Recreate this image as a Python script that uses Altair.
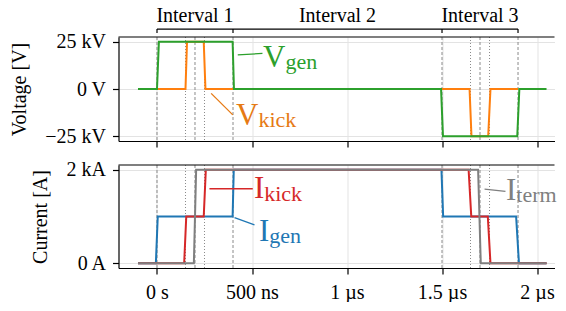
import altair as alt
import pandas as pd

# ---------------- data (time in µs, voltage in kV, current in kA) ----------------
vgen_t = [-0.1, 0.0, 0.01, 0.398, 0.405, 1.495, 1.505, 1.896, 1.907, 2.05]
vgen_v = [0, 0, 25, 25, 0, 0, -25, -25, 0, 0]
vkick_t = [0.0, 0.15, 0.158, 0.246, 0.255, 1.645, 1.655, 1.743, 1.755, 1.9]
vkick_v = [0, 0, 25, 25, 0, 0, -25, -25, 0, 0]

igen_t = [-0.1, -0.006, 0.004, 0.398, 0.404, 1.497, 1.506, 1.89, 1.905, 2.05]
igen_i = [0, 0, 1, 1, 2, 2, 1, 1, 0, 0]
ikick_t = [-0.1, 0.143, 0.154, 0.246, 0.257, 1.64, 1.654, 1.741, 1.755, 2.05]
ikick_i = [0, 0, 1, 1, 2, 2, 1, 1, 0, 0]
iterm_t = [-0.1, 0.194, 0.206, 1.69, 1.704, 2.05]
iterm_i = [0, 0, 2, 2, 0, 0]

dashed_t = [0, 0.2, 0.4, 1.5, 1.7, 1.9]
dotted_t = [0.15, 0.25, 1.65, 1.75]

interval_names = ["Interval 1", "Interval 2", "Interval 3"]
interval_start = [0.0, 0.4, 1.5]
interval_end = [0.4, 1.5, 1.9]

x_ticks = [0, 0.5, 1, 1.5, 2]
v_ticks = [-25, 0, 25]
i_ticks = [0, 2]

# labels: main letter, subscript, x, y, leader line (x1, y1, x2, y2), colour
top_labels = [
    ("V", "gen", 0.558, 11.8, 0.425, 18.0, 0.555, 18.8, "#2ca02c"),
    ("V", "kick", 0.416, -19.0, 0.285, -2.3, 0.399, -13.7, "#e67a14"),
]
bot_labels = [
    ("I", "kick", 0.51, 1.393, 0.276, 1.593, 0.504, 1.593, "#d62728"),
    ("I", "gen", 0.537, 0.484, 0.408, 0.977, 0.513, 0.819, "#1f77b4"),
    ("I", "term", 1.837, 1.357, 1.724, 1.586, 1.834, 1.535, "#7f7f7f"),
]

# ---------------- styling ----------------
FONT = "Liberation Serif"
X_MIN, X_MAX = -0.2026, 2.092
V_MIN, V_MAX = -27.5, 27.5
I_MIN, I_MAX = -0.1, 2.1
W = 436
H_TOP = 104
H_BOT = 103
MAIN_FS = 31
SUB_FS = 22
GRID = "#e3e3e3"

xscale = alt.Scale(domain=[X_MIN, X_MAX], nice=False, zero=False)


def xaxis(labels):
    if labels:
        return alt.Axis(values=x_ticks, labels=True, title=None, grid=True,
                        labelExpr="datum.value == 0 ? '0 s' : (datum.value == 0.5 ? '500 ns' : datum.value + ' µs')",
                        labelPadding=8)
    return alt.Axis(values=x_ticks, labels=False, title=None, grid=True)


def panel(series, yfield_scale, yaxis, labels, brackets):
    ymin, ymax = yfield_scale
    yscale = alt.Scale(domain=[ymin, ymax], nice=False, zero=False)
    xax = xaxis(not brackets)
    layers = []
    dash_df = pd.DataFrame({"t": dashed_t})
    dot_df = pd.DataFrame({"t": dotted_t})
    layers.append(alt.Chart(dash_df).mark_rule(color="#8a8a8a", strokeWidth=1, strokeDash=[3, 2]).encode(
        x=alt.X("t:Q", scale=xscale, axis=xax)))
    layers.append(alt.Chart(dot_df).mark_rule(color="#8a8a8a", strokeWidth=1, strokeDash=[1, 2]).encode(
        x=alt.X("t:Q", scale=xscale, axis=xax)))
    for ts, vs, col in series:
        df = pd.DataFrame({"t": ts, "y": vs, "k": list(range(len(ts)))})
        layers.append(alt.Chart(df).mark_line(color=col, strokeWidth=2).encode(
            x=alt.X("t:Q", scale=xscale, axis=xax),
            y=alt.Y("y:Q", scale=yscale, axis=yaxis),
            order="k:Q"))
    lab_df = pd.DataFrame(labels, columns=["main", "sub", "x", "y", "lx1", "ly1", "lx2", "ly2", "c"])
    for _, r in lab_df.iterrows():
        one = pd.DataFrame([r])
        adv = 0.722 * MAIN_FS if r["main"] == "V" else 0.333 * MAIN_FS
        layers.append(alt.Chart(one).mark_rule(color=r["c"], strokeWidth=1.3).encode(
            x=alt.X("lx1:Q", scale=xscale, axis=xax), x2="lx2:Q",
            y=alt.Y("ly1:Q", scale=yscale, axis=yaxis), y2="ly2:Q"))
        layers.append(alt.Chart(one).mark_text(font=FONT, fontSize=MAIN_FS, color=r["c"], align="left",
                                               baseline="alphabetic").encode(
            x=alt.X("x:Q", scale=xscale, axis=xax), y=alt.Y("y:Q", scale=yscale, axis=yaxis), text="main:N"))
        layers.append(alt.Chart(one).mark_text(font=FONT, fontSize=SUB_FS, color=r["c"], align="left",
                                               baseline="alphabetic", dx=adv, dy=2.5).encode(
            x=alt.X("x:Q", scale=xscale, axis=xax), y=alt.Y("y:Q", scale=yscale, axis=yaxis), text="sub:N"))
    if brackets:
        iv = pd.DataFrame({"name": interval_names, "start": interval_start, "end": interval_end})
        iv["mid"] = (iv["start"] + iv["end"]) / 2
        iv["yl"] = 31.7
        iv["yt"] = 35.3
        layers.append(alt.Chart(iv).mark_rule(color="black", strokeWidth=1.2).encode(
            x=alt.X("start:Q", scale=xscale, axis=xax), x2="end:Q",
            y=alt.Y("yl:Q", scale=yscale, axis=yaxis)))
        bnd = pd.DataFrame({"t": sorted(set(interval_start + interval_end))})
        bnd["y1"] = 29.6
        bnd["y2"] = 31.7
        layers.append(alt.Chart(bnd).mark_rule(color="black", strokeWidth=1.2).encode(
            x=alt.X("t:Q", scale=xscale, axis=xax),
            y=alt.Y("y1:Q", scale=yscale, axis=yaxis), y2="y2:Q"))
        layers.append(alt.Chart(iv).mark_text(font=FONT, fontSize=20, color="black", align="center",
                                              baseline="alphabetic").encode(
            x=alt.X("mid:Q", scale=xscale, axis=xax),
            y=alt.Y("yt:Q", scale=yscale, axis=yaxis), text="name:N"))
    # top border of the frame
    border = pd.DataFrame({"a": [X_MIN], "b": [X_MAX], "y": [ymax]})
    layers.append(alt.Chart(border).mark_rule(color="black", strokeWidth=1.2).encode(
        x=alt.X("a:Q", scale=xscale, axis=xax), x2="b:Q",
        y=alt.Y("y:Q", scale=yscale, axis=yaxis)))
    return alt.layer(*layers)


top_axis = alt.Axis(values=v_ticks, title="Voltage [V]", grid=True, labelPadding=7, titlePadding=15,
                    labelExpr="datum.value == 0 ? '0 V' : (datum.value > 0 ? datum.value + ' kV' : '\u2212' + (-datum.value) + ' kV')")
bot_axis = alt.Axis(values=i_ticks, title="Current [A]", grid=True, labelPadding=7, titlePadding=16,
                    labelExpr="datum.value == 0 ? '0 A' : datum.value + ' kA'")

top = panel([(vkick_t, vkick_v, "#ff7f0e"), (vgen_t, vgen_v, "#2ca02c")],
            (V_MIN, V_MAX), top_axis, top_labels, True).properties(width=W, height=H_TOP)
bot = panel([(igen_t, igen_i, "#1f77b4"), (ikick_t, ikick_i, "#d62728"), (iterm_t, iterm_i, "#7f7f7f")],
            (I_MIN, I_MAX), bot_axis, bot_labels, False).properties(width=W, height=H_BOT)

chart = alt.vconcat(top, bot, spacing=11).properties(
    padding={"left": 1.5, "top": -2, "right": 0, "bottom": 0}
).configure_view(stroke=None).configure_axis(
    labelFont=FONT, labelFontSize=20, labelColor="black",
    titleFont=FONT, titleFontSize=20, titleFontWeight="normal", titleColor="black",
    domainColor="black", domainWidth=1.2, tickColor="black", tickWidth=1.2, tickSize=6,
    gridColor=GRID, gridWidth=1,
)

chart.save("out.html", embed_options={"renderer": "svg", "actions": False})
